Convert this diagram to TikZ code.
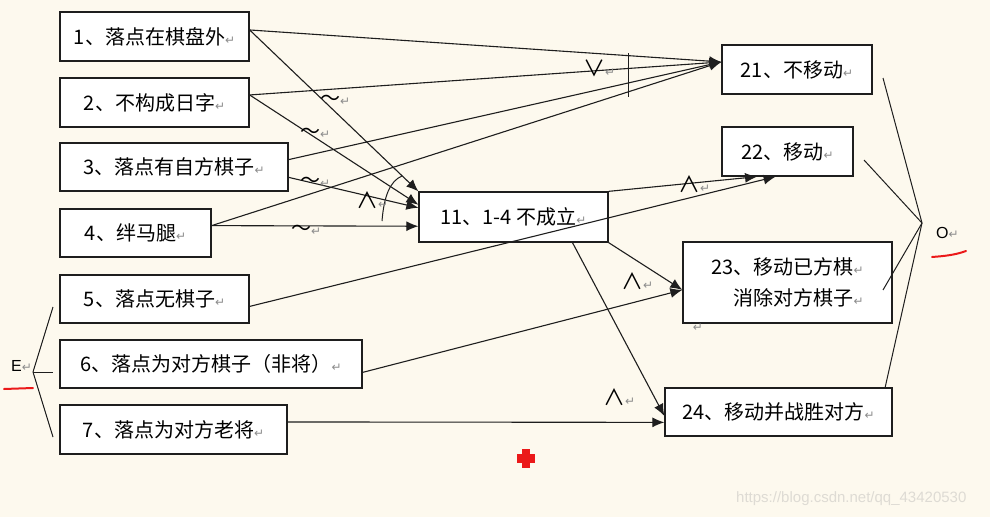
\documentclass[tikz,border=0pt]{standalone}
\usepackage{fontspec}
\setmainfont{Noto Sans CJK SC}
\newfontfamily\symfont{DejaVu Sans}
\newfontfamily\wmfont{Liberation Sans}
\usetikzlibrary{arrows.meta,calc}
\definecolor{bgc}{RGB}{253,249,238}
\definecolor{ink}{RGB}{30,30,30}
\definecolor{retc}{RGB}{140,140,140}
\definecolor{wmc}{RGB}{222,219,212}
\definecolor{redmark}{RGB}{235,25,25}
\newcommand{\rt}{{\symfont\fontsize{12}{12}\selectfont\color{retc}↵}}
\tikzset{
  boxn/.style={draw=ink, fill=white, line width=1.3pt, inner sep=0pt, font=\fontsize{20}{24}\selectfont},
  arr/.style={draw=ink, line width=1.1pt, -{Latex[length=12pt,width=10pt]}},
  thinl/.style={draw=ink, line width=1pt},
  lbl/.style={inner sep=0pt, anchor=west, font=\fontsize{22}{22}\selectfont},
  tlbl/.style={inner sep=0pt, anchor=west, font=\fontsize{20}{20}\selectfont},
}
\begin{document}
\begin{tikzpicture}[x=1pt,y=-1pt]
\fill[bgc] (0,0) rectangle (990,517);
\useasboundingbox (0,0) rectangle (990,517);

% boxes
\node[boxn, minimum width=189pt, minimum height=49pt] (b1) at (154.5,36.5) {1、落点在棋盘外\rt};
\node[boxn, minimum width=189pt, minimum height=49pt] (b2) at (154.5,102.5) {2、不构成日字\rt};
\node[boxn, minimum width=228pt, minimum height=48pt] (b3) at (174,167) {3、落点有自方棋子\rt};
\node[boxn, minimum width=151pt, minimum height=48pt] (b4) at (135.5,233) {4、绊马腿\rt};
\node[boxn, minimum width=189pt, minimum height=48pt] (b5) at (154.5,299) {5、落点无棋子\rt};
\node[boxn, minimum width=302pt, minimum height=48pt] (b6) at (211,364) {6、落点为对方棋子（非将）\rt};
\node[boxn, minimum width=227pt, minimum height=49pt] (b7) at (173.5,429.5) {7、落点为对方老将\rt};
\node[boxn, minimum width=189pt, minimum height=50pt] (b11) at (513.5,217) {11、1-4 不成立\rt};
\node[boxn, minimum width=150pt, minimum height=49pt] (b21) at (797,69.5) {21、不移动\rt};
\node[boxn, minimum width=131pt, minimum height=49pt] (b22) at (787.5,151.5) {22、移动\rt};
\node[boxn, minimum width=209pt, minimum height=81pt, align=right, font=\fontsize{20}{31}\selectfont] (b23) at (787.5,282.5) {23、移动已方棋\rt\\消除对方棋子\rt};
\node[boxn, minimum width=227pt, minimum height=48pt] (b24) at (778.5,412) {24、移动并战胜对方\rt};

% anchor points
\coordinate (p1) at ($(b1.north east)!0.37!(b1.south east)$);
\coordinate (p2) at ($(b2.north east)!0.35!(b2.south east)$);
\coordinate (p3a) at ($(b3.north east)!0.35!(b3.south east)$);
\coordinate (p3b) at ($(b3.north east)!0.71!(b3.south east)$);
\coordinate (p4) at ($(b4.north east)!0.35!(b4.south east)$);
\coordinate (p5) at ($(b5.north east)!0.65!(b5.south east)$);
\coordinate (p6) at ($(b6.north east)!0.67!(b6.south east)$);
\coordinate (p7) at ($(b7.north east)!0.35!(b7.south east)$);
\coordinate (q21) at ($(b21.north west)!0.35!(b21.south west)$);
\coordinate (q11a) at (b11.north west);
\coordinate (q11b) at ($(b11.north west)!0.26!(b11.south west)$);
\coordinate (q11c) at ($(b11.north west)!0.32!(b11.south west)$);
\coordinate (q11d) at ($(b11.north west)!0.68!(b11.south west)$);
\coordinate (q22a) at ($(b22.south west)!0.27!(b22.south east)$);
\coordinate (q22b) at ($(b22.south west)!0.41!(b22.south east)$);
\coordinate (q23) at ($(b23.north west)!0.59!(b23.south west)$);
\coordinate (q24a) at ($(b24.north west)!0.58!(b24.south west)$);
\coordinate (q24b) at ($(b24.north west)!0.71!(b24.south west)$);
\coordinate (s11) at ($(b11.south west)!0.81!(b11.south east)$);

% connectors
\draw[arr] (p1) -- (q21);
\draw[arr] (p2) -- (q21);
\draw[arr] (p3a) -- (q21);
\draw[arr] (p4) -- (q21);
\draw[arr] (p1) -- (q11a);
\draw[arr] (p2) -- (q11b);
\draw[arr] (p3b) -- (q11c);
\draw[arr] (p4) -- (q11d);
\draw[arr] (b11.north east) -- (q22a);
\draw[arr] (p5) -- (q22b);
\draw[arr] (b11.south east) -- (q23);
\draw[arr] (p6) -- (q23);
\draw[arr] (s11) -- (q24a);
\draw[arr] (p7) -- (q24b);

% or-bar and and-arc
\coordinate (vb1) at (628,53);
\coordinate (vb2) at (628,97);
\draw[thinl] (vb1) -- (vb2);
\coordinate (ar1) at (382,221);
\coordinate (ar2) at (402,176);
\draw[thinl] (ar1) .. controls (384,196) and (390,181) .. (ar2);

% labels
\node[tlbl] (t1) at (320,100) {～\rt};
\node[tlbl] (t2) at (300,133) {～\rt};
\node[tlbl] (t3) at (300,182) {～\rt};
\node[tlbl] (t4) at (291,230) {～\rt};
\node[lbl] (a1) at (356,200) {∧\rt};
\node[lbl] (o1) at (583,68) {∨\rt};
\node[lbl] (a22) at (678,184) {∧\rt};
\node[lbl] (a23) at (621,281) {∧\rt};
\node[lbl] (a24) at (603,397) {∧\rt};
\node[inner sep=0pt] (stray) at (698,328) {\rt};

% O collector
\coordinate (O) at (922,223);
\coordinate (o21) at (883,78);
\coordinate (o22) at (864,160);
\coordinate (o23) at (883,290);
\coordinate (o24) at (885,388);
\draw[thinl] (o21) -- (O);
\draw[thinl] (o22) -- (O);
\draw[thinl] (o23) -- (O);
\draw[thinl] (o24) -- (O);
\node[inner sep=0pt, anchor=west, font=\wmfont\fontsize{16}{16}\selectfont] (Olbl) at (936,233) {O\rt};
\coordinate (ou1) at (932,257);
\coordinate (ou2) at (966,251);
\draw[redmark, line width=2pt, line cap=round] (ou1) .. controls (945,256) and (955,255) .. (ou2);

% E splitter
\coordinate (Ep) at (33,372);
\coordinate (e5) at (53,307);
\coordinate (e6) at (53,372);
\coordinate (e7) at (53,437);
\draw[thinl] (Ep) -- (e5);
\draw[thinl] (Ep) -- (e6);
\draw[thinl] (Ep) -- (e7);
\node[inner sep=0pt, anchor=west, font=\wmfont\fontsize{16}{16}\selectfont] (Elbl) at (11,366) {E\rt};
\coordinate (eu1) at (4,389);
\coordinate (eu2) at (33,388);
\draw[redmark, line width=2pt, line cap=round] (eu1) -- (eu2);

% red cross
\fill[redmark] (517,454) rectangle (535,463);
\fill[redmark] (522,449) rectangle (530,468);

% watermark
\node[inner sep=0pt, anchor=west, text=wmc, font=\wmfont\fontsize{15}{15}\selectfont] (wm) at (736,499) {https://blog.csdn.net/qq\_43420530};
\end{tikzpicture}
\end{document}
